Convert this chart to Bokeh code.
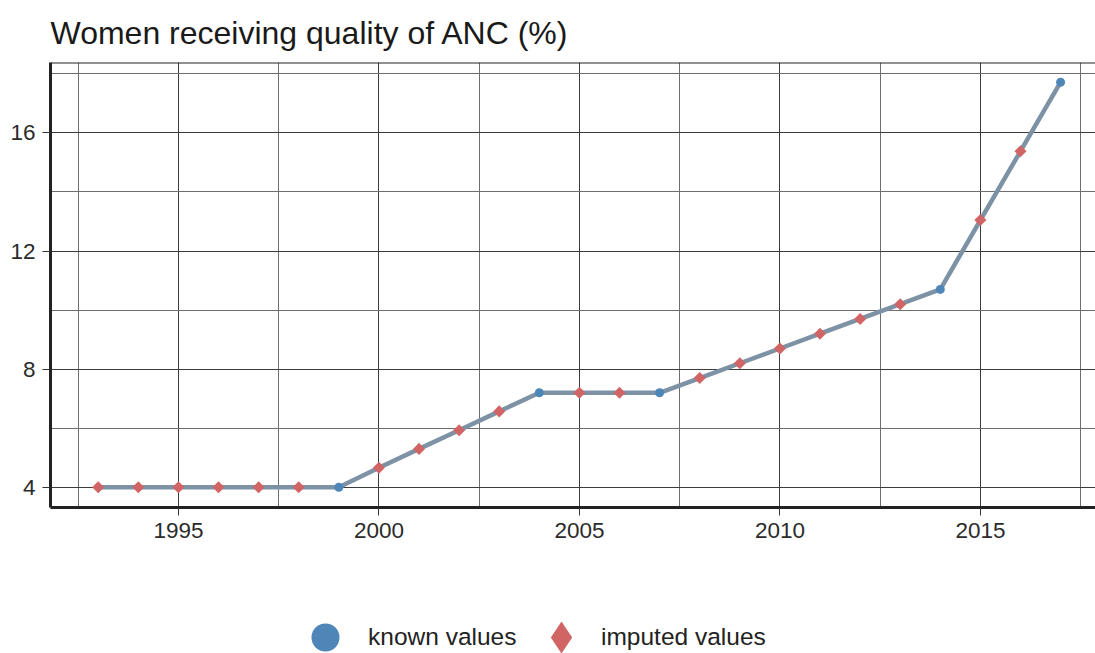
import numpy as np
from bokeh.plotting import figure
from bokeh.layouts import column
from bokeh.models import (ColumnDataSource, FixedTicker, Range1d, Legend, LegendItem,
                          Span)
from bokeh.embed import file_html
from bokeh.resources import INLINE

# ---- data ----
years = list(range(1993, 2018))
values = [4.0, 4.0, 4.0, 4.0, 4.0, 4.0, 4.0,
          4.66, 5.3, 5.93, 6.57, 7.2,
          7.2, 7.2, 7.2,
          7.7, 8.2, 8.7, 9.2, 9.7, 10.2, 10.7,
          13.05, 15.38, 17.72]
known_years = [1999, 2004, 2007, 2014, 2017]
known_values = [4.0, 7.2, 7.2, 10.7, 17.72]
imputed_years = [1993, 1994, 1995, 1996, 1997, 1998, 2000, 2001, 2002, 2003,
                 2005, 2006, 2008, 2009, 2010, 2011, 2012, 2013, 2015, 2016]
imputed_values = [4.0, 4.0, 4.0, 4.0, 4.0, 4.0, 4.66, 5.3, 5.93, 6.57,
                  7.2, 7.2, 7.7, 8.2, 8.7, 9.2, 9.7, 10.2, 13.05, 15.38]
x_ticks = [1995, 2000, 2005, 2010, 2015]
x_minor = [1992.5, 1997.5, 2002.5, 2007.5, 2012.5, 2017.5]
y_ticks = [4, 8, 12, 16]
y_minor = [6, 10, 14, 18]
title_text = "Women receiving quality of ANC (%)"
legend_labels = ["known values", "imputed values"]

FONT = "Liberation Sans"
LINE_C = "#7d92a5"
KNOWN_C = "#4f86b8"
IMP_C = "#d16464"

Y0, Y1 = 3.315, 18.385

p = figure(width=1095, height=560, output_backend="svg", toolbar_location=None,
           x_range=Range1d(1991.81, 2017.87), y_range=Range1d(Y0, Y1),
           min_border_left=50, min_border_right=0, min_border_top=62,
           min_border_bottom=53)

p.title.text = title_text
p.title.text_font = FONT
p.title.text_font_size = "32px"
p.title.text_font_style = "normal"
p.title.text_color = "#1a1a1a"
p.title.offset = 0
p.title.standoff = 23

p.outline_line_color = None
p.background_fill_color = "white"
p.border_fill_color = "white"

p.xaxis.ticker = FixedTicker(ticks=x_ticks, minor_ticks=x_minor)
p.yaxis.ticker = FixedTicker(ticks=y_ticks, minor_ticks=y_minor)
for ax in (p.xaxis[0], p.yaxis[0]):
    ax.axis_line_color = "#222222"
    ax.axis_line_width = 3
    ax.major_tick_line_color = "#333333"
    ax.major_tick_line_width = 1
    ax.major_tick_out = 8
    ax.major_tick_in = 0
    ax.minor_tick_line_color = None
    ax.major_label_text_font = FONT
    ax.major_label_text_font_size = "22.5px"
    ax.major_label_text_color = "#2b2b2b"
    ax.major_label_standoff = 7

p.xgrid.grid_line_color = "#3c3c3c"
p.ygrid.grid_line_color = "#3c3c3c"
p.xgrid.minor_grid_line_color = "#6e6e6e"
p.ygrid.minor_grid_line_color = "#6e6e6e"

p.add_layout(Span(location=Y1, dimension="width", line_color="#222222", line_width=2))

src = ColumnDataSource(dict(x=years, y=values))
p.line("x", "y", source=src, line_color=LINE_C, line_width=4.5)

known_src = ColumnDataSource(dict(x=known_years, y=known_values))
imp_src = ColumnDataSource(dict(x=imputed_years, y=imputed_values))
p.scatter("x", "y", source=known_src, marker="circle", size=9,
          fill_color=KNOWN_C, line_color=None)
p.scatter("x", "y", source=imp_src, marker="square", size=8.5, angle=np.pi / 4,
          fill_color=IMP_C, line_color=None)

# ---- legend strip (its ranges keep the proxy points out of view) ----
lg = figure(width=1095, height=93, output_backend="svg", toolbar_location=None,
            x_range=Range1d(0, 1), y_range=Range1d(0, 1),
            x_axis_type=None, y_axis_type=None,
            min_border_left=0, min_border_right=0, min_border_top=0, min_border_bottom=0)
lg.outline_line_color = None
lg.xgrid.visible = False
lg.ygrid.visible = False
lk = lg.scatter("x", "y", source=known_src, marker="circle", fill_color=KNOWN_C, line_color=None)
li = lg.scatter("x", "y", source=imp_src, marker="diamond",
                fill_color=IMP_C, line_color=None)

common = dict(orientation="horizontal", padding=0, margin=0, border_line_color=None,
              background_fill_alpha=0, label_text_font=FONT,
              label_text_font_size="24.5px", label_text_color="#222222")
leg_a = Legend(items=[LegendItem(label=legend_labels[0], renderers=[lk])],
               location=(240, -19), glyph_width=70, glyph_height=70,
               label_standoff=8, **common)
leg_b = Legend(items=[LegendItem(label=legend_labels[1], renderers=[li])],
               location=(471, -24), glyph_width=80, glyph_height=80,
               label_standoff=0, **common)
lg.add_layout(leg_a, "center")
lg.add_layout(leg_b, "center")

layout = column(p, lg, spacing=0)
open("out.html", "w").write(file_html(layout, INLINE))
